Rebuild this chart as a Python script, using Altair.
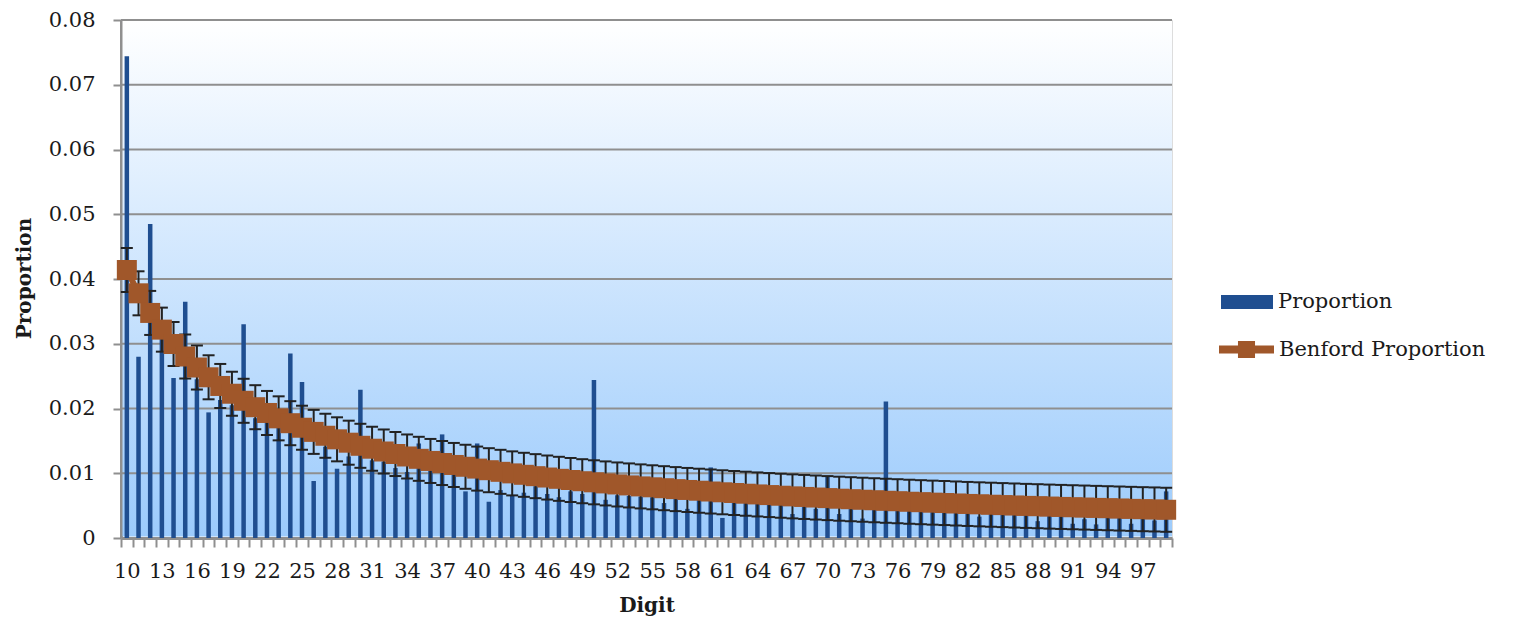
import altair as alt
import pandas as pd

# ---- data ----
DIGITS = list(range(10, 100))
PROPORTION = [
    0.0744, 0.0280, 0.0485, 0.0310, 0.0247, 0.0365, 0.0245, 0.0194, 0.0213, 0.0205,
    0.0330, 0.0185, 0.0180, 0.0172, 0.0285, 0.0241, 0.0088, 0.0141, 0.0107, 0.0126,
    0.0229, 0.0120, 0.0118, 0.0108, 0.0102, 0.0146, 0.0104, 0.0160, 0.0100, 0.0072,
    0.0146, 0.0056, 0.0074, 0.0066, 0.0070, 0.0080, 0.0068, 0.0063, 0.0072, 0.0068,
    0.0244, 0.0059, 0.0066, 0.0065, 0.0064, 0.0063, 0.0054, 0.0064, 0.0045, 0.0060,
    0.0109, 0.0031, 0.0058, 0.0057, 0.0056, 0.0055, 0.0054, 0.0037, 0.0048, 0.0045,
    0.0095, 0.0037, 0.0049, 0.0030, 0.0048, 0.0211, 0.0047, 0.0043, 0.0046, 0.0045,
    0.0050, 0.0049, 0.0048, 0.0033, 0.0045, 0.0046, 0.0044, 0.0042, 0.0026, 0.0043,
    0.0041, 0.0022, 0.0029, 0.0021, 0.0040, 0.0041, 0.0022, 0.0039, 0.0027, 0.0072,
]
BENFORD = [
    0.04139, 0.03779, 0.03476, 0.03218, 0.02996, 0.02803, 0.02633, 0.02482, 0.02348, 0.02228,
    0.02119, 0.02020, 0.01931, 0.01848, 0.01773, 0.01703, 0.01639, 0.01579, 0.01524, 0.01472,
    0.01424, 0.01379, 0.01336, 0.01297, 0.01259, 0.01223, 0.01190, 0.01158, 0.01128, 0.01100,
    0.01072, 0.01047, 0.01022, 0.00998, 0.00976, 0.00955, 0.00934, 0.00914, 0.00896, 0.00877,
    0.00860, 0.00843, 0.00827, 0.00812, 0.00797, 0.00783, 0.00769, 0.00755, 0.00742, 0.00730,
    0.00718, 0.00706, 0.00695, 0.00684, 0.00673, 0.00663, 0.00653, 0.00643, 0.00634, 0.00625,
    0.00616, 0.00607, 0.00599, 0.00591, 0.00583, 0.00575, 0.00568, 0.00560, 0.00553, 0.00546,
    0.00540, 0.00533, 0.00526, 0.00520, 0.00514, 0.00508, 0.00502, 0.00496, 0.00491, 0.00485,
    0.00480, 0.00475, 0.00470, 0.00465, 0.00460, 0.00455, 0.00450, 0.00445, 0.00441, 0.00436,
]
ERROR = 0.0034
Y_TICKS = [0.0, 0.01, 0.02, 0.03, 0.04, 0.05, 0.06, 0.07, 0.08]

FONT = "DejaVu Serif"
BAR_COLOR = "#1F4E90"
ORANGE = "#A0572A"
GRID = "#8F8F8F"
W, H = 1051, 518

df = pd.DataFrame({"Digit": DIGITS, "Proportion": PROPORTION, "Benford": BENFORD})
grid_df = pd.DataFrame({"y": Y_TICKS[1:]})
bg_df = pd.DataFrame({"k": [0]})

y_scale = alt.Scale(domain=[0, 0.08], nice=False, zero=True)
y_axis = alt.Axis(
    title="Proportion", values=Y_TICKS, format=".2~f", grid=False,
    tickSize=8, tickColor=GRID, tickWidth=2, domainColor=GRID, domainWidth=3,
    labelFont=FONT, labelFontSize=21, labelColor="#1a1a1a", labelPadding=18,
    titleFont=FONT, titleFontSize=20, titleFontWeight="bold", titleColor="#1a1a1a",
    titleX=-97, titleY=258, titleBaseline="middle", titleAlign="center",
)
x_axis = alt.Axis(
    title="Digit", labelAngle=0, labelOverlap=False,
    labelExpr="(datum.value - 10) % 3 == 0 ? datum.label : ''",
    tickBand="extent", tickSize=9, tickColor=GRID, tickWidth=2,
    domainColor=GRID, domainWidth=3,
    labelFont=FONT, labelFontSize=21, labelColor="#1a1a1a", labelPadding=13,
    titleFont=FONT, titleFontSize=20, titleFontWeight="bold", titleColor="#1a1a1a",
    titleY=73, titleBaseline="alphabetic",
)
x_enc = alt.X("Digit:O", scale=alt.Scale(paddingInner=0, paddingOuter=0), axis=x_axis)

bg = alt.Chart(bg_df).mark_rect(
    color=alt.LinearGradient(
        gradient="linear",
        stops=[alt.GradientStop(color="#FFFFFF", offset=0),
               alt.GradientStop(color="#9CCBFC", offset=1)],
        x1=0, x2=0, y1=0, y2=1,
    )
).encode(x=alt.value(1.5), x2=alt.value("width"), y=alt.value(0), y2=alt.value(H - 1.5))

grid = alt.Chart(grid_df).mark_rule(color=GRID, strokeWidth=2).encode(
    y=alt.Y("y:Q", scale=y_scale, axis=y_axis),
    x=alt.value(0), x2=alt.value("width"),
)

base = alt.Chart(df)

bars = base.transform_calculate(s="'Proportion'").mark_bar(size=4.5).encode(
    x=x_enc,
    y=alt.Y("Proportion:Q", scale=y_scale, axis=y_axis),
    color=alt.Color("s:N", scale=alt.Scale(domain=["Proportion"], range=[BAR_COLOR]),
                    legend=alt.Legend(title=None, orient="none", legendX=1100, legendY=256,
                                      symbolType="M-1,-0.27H1V0.27H-1Z", symbolSize=2704,
                                      symbolStrokeWidth=0, labelFont=FONT, labelFontSize=21,
                                      labelColor="#1a1a1a", labelOffset=5, padding=0,
                                      labelLimit=0)),
)

err_base = base.transform_calculate(
    upper=f"datum.Benford + {ERROR}", lower=f"datum.Benford - {ERROR}"
)
err_rule = err_base.mark_rule(color="#222222", strokeWidth=2).encode(
    x=x_enc,
    y=alt.Y("lower:Q", scale=y_scale, axis=y_axis),
    y2="upper:Q",
)
cap_up = err_base.mark_tick(color="#222222", thickness=2, size=12, opacity=1).encode(
    x=x_enc, y=alt.Y("upper:Q", scale=y_scale, axis=y_axis),
)
cap_lo = err_base.mark_tick(color="#222222", thickness=2, size=12, opacity=1).encode(
    x=x_enc, y=alt.Y("lower:Q", scale=y_scale, axis=y_axis),
)

line = base.mark_line(color=ORANGE, strokeWidth=6).encode(
    x=x_enc, y=alt.Y("Benford:Q", scale=y_scale, axis=y_axis),
)
points = base.transform_calculate(s2="'Benford Proportion'").mark_point(
    shape="square", filled=True, size=400, opacity=1
).encode(
    x=x_enc,
    y=alt.Y("Benford:Q", scale=y_scale, axis=y_axis),
    color=alt.Color("s2:N", scale=alt.Scale(domain=["Benford Proportion"], range=[ORANGE]),
                    legend=alt.Legend(title=None, orient="none", legendX=1098, legendY=302,
                                      symbolType="M-1,-0.145H1V0.145H-1Z M-0.31,-0.31H0.31V0.31H-0.31Z",
                                      symbolSize=3025, symbolStrokeWidth=0, symbolOpacity=1,
                                      labelFont=FONT, labelFontSize=21, labelColor="#1a1a1a",
                                      labelOffset=5, padding=0, labelLimit=0)),
)

chart = alt.layer(bg, grid, bars, err_rule, cap_up, cap_lo, line, points).resolve_scale(
    color="independent"
).properties(
    width=W, height=H,
    autosize=alt.AutoSizeParams(type="none"),
    padding={"left": 113, "top": 12, "right": 346, "bottom": 80},
).configure_view(stroke=None).configure(background="white")

chart.save("out.html", embed_options={"renderer": "svg", "actions": False})
